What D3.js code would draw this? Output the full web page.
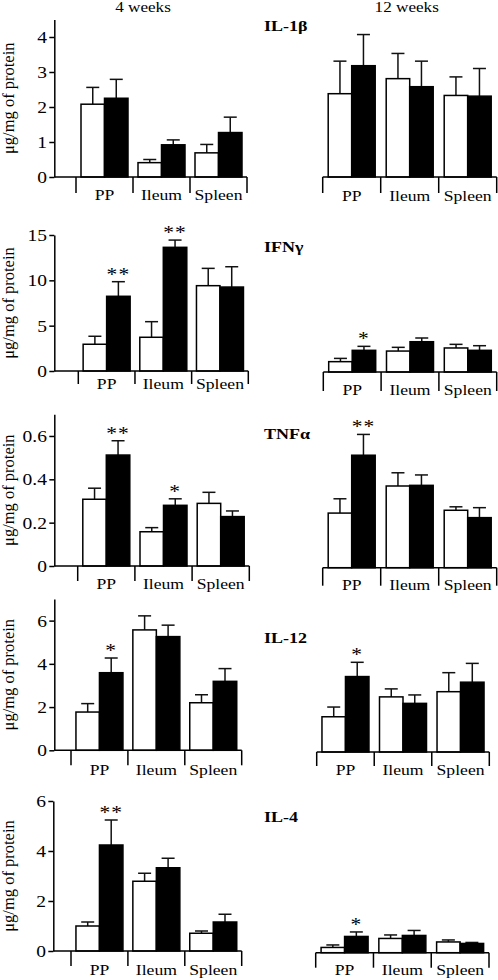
<!DOCTYPE html>
<html><head><meta charset="utf-8">
<script src="https://cdn.jsdelivr.net/npm/d3@7"></script>
<style>
body{margin:0;background:#fff}
text{font-family:"Liberation Serif","Times New Roman",serif;fill:#000}
</style>
</head><body>
<svg id="c" width="498" height="980"></svg>
<script>
// ---------- DATA ----------
const groups = ["PP", "Ileum", "Spleen"];
const periods = ["4 weeks", "12 weeks"];
const cytokines = ["IL-1β", "IFNγ", "TNFα", "IL-12", "IL-4"];
const yLabel = "μg/mg of protein";

// IL-1β
const il1b_ticks = [0, 1, 2, 3, 4];
const il1b_w4_ctrl = [2.08, 0.41, 0.69], il1b_w4_ctrl_sem = [0.48, 0.09, 0.24];
const il1b_w4_trt = [2.25, 0.92, 1.27], il1b_w4_trt_sem = [0.54, 0.14, 0.44];
const il1b_w4_sig = ["", "", ""];
const il1b_w12_ctrl = [2.38, 2.81, 2.33], il1b_w12_ctrl_sem = [0.93, 0.72, 0.53];
const il1b_w12_trt = [3.18, 2.58, 2.31], il1b_w12_trt_sem = [0.89, 0.73, 0.79];
const il1b_w12_sig = ["", "", ""];

// IFNγ
const ifng_ticks = [0, 5, 10, 15];
const ifng_w4_ctrl = [2.95, 3.72, 9.41], ifng_w4_ctrl_sem = [0.88, 1.72, 1.91];
const ifng_w4_trt = [8.24, 13.64, 9.26], ifng_w4_trt_sem = [1.61, 0.80, 2.24];
const ifng_w4_sig = ["**", "**", ""];
const ifng_w12_ctrl = [1.14, 2.31, 2.65], ifng_w12_ctrl_sem = [0.36, 0.41, 0.40];
const ifng_w12_trt = [2.39, 3.34, 2.39], ifng_w12_trt_sem = [0.44, 0.41, 0.51];
const ifng_w12_sig = ["*", "", ""];

// TNFα
const tnfa_ticks = [0, 0.2, 0.4, 0.6];
const tnfa_w4_ctrl = [0.308, 0.158, 0.289], tnfa_w4_ctrl_sem = [0.051, 0.019, 0.051];
const tnfa_w4_trt = [0.512, 0.280, 0.228], tnfa_w4_trt_sem = [0.066, 0.030, 0.026];
const tnfa_w4_sig = ["**", "*", ""];
const tnfa_w12_ctrl = [0.252, 0.377, 0.265], tnfa_w12_ctrl_sem = [0.066, 0.061, 0.016];
const tnfa_w12_trt = [0.519, 0.380, 0.231], tnfa_w12_trt_sem = [0.096, 0.048, 0.046];
const tnfa_w12_sig = ["**", "", ""];

// IL-12
const il12_ticks = [0, 2, 4, 6];
const il12_w4_ctrl = [1.77, 5.57, 2.20], il12_w4_ctrl_sem = [0.39, 0.65, 0.37];
const il12_w4_trt = [3.59, 5.26, 3.19], il12_w4_trt_sem = [0.68, 0.53, 0.59];
const il12_w4_sig = ["*", "", ""];
const il12_w12_ctrl = [1.63, 2.55, 2.79], il12_w12_ctrl_sem = [0.45, 0.37, 0.88];
const il12_w12_trt = [3.49, 2.25, 3.23], il12_w12_trt_sem = [0.66, 0.39, 0.87];
const il12_w12_sig = ["*", "", ""];

// IL-4
const il4_ticks = [0, 2, 4, 6];
const il4_w4_ctrl = [1.00, 2.79, 0.71], il4_w4_ctrl_sem = [0.16, 0.32, 0.09];
const il4_w4_trt = [4.24, 3.33, 1.16], il4_w4_trt_sem = [1.00, 0.38, 0.31];
const il4_w4_sig = ["**", "", ""];
const il4_w12_ctrl = [0.21, 0.57, 0.43], il4_w12_ctrl_sem = [0.10, 0.14, 0.08];
const il4_w12_trt = [0.65, 0.69, 0.37], il4_w12_trt_sem = [0.18, 0.20, 0.04];
const il4_w12_sig = ["*", "", ""];

const axisMax = [4.5, 15, 0.7, 7, 6];
const tickSets = [il1b_ticks, ifng_ticks, tnfa_ticks, il12_ticks, il4_ticks];
const rowData = [
  [{ctrl: il1b_w4_ctrl, ctrlSem: il1b_w4_ctrl_sem, trt: il1b_w4_trt, trtSem: il1b_w4_trt_sem, sig: il1b_w4_sig},
   {ctrl: il1b_w12_ctrl, ctrlSem: il1b_w12_ctrl_sem, trt: il1b_w12_trt, trtSem: il1b_w12_trt_sem, sig: il1b_w12_sig}],
  [{ctrl: ifng_w4_ctrl, ctrlSem: ifng_w4_ctrl_sem, trt: ifng_w4_trt, trtSem: ifng_w4_trt_sem, sig: ifng_w4_sig},
   {ctrl: ifng_w12_ctrl, ctrlSem: ifng_w12_ctrl_sem, trt: ifng_w12_trt, trtSem: ifng_w12_trt_sem, sig: ifng_w12_sig}],
  [{ctrl: tnfa_w4_ctrl, ctrlSem: tnfa_w4_ctrl_sem, trt: tnfa_w4_trt, trtSem: tnfa_w4_trt_sem, sig: tnfa_w4_sig},
   {ctrl: tnfa_w12_ctrl, ctrlSem: tnfa_w12_ctrl_sem, trt: tnfa_w12_trt, trtSem: tnfa_w12_trt_sem, sig: tnfa_w12_sig}],
  [{ctrl: il12_w4_ctrl, ctrlSem: il12_w4_ctrl_sem, trt: il12_w4_trt, trtSem: il12_w4_trt_sem, sig: il12_w4_sig},
   {ctrl: il12_w12_ctrl, ctrlSem: il12_w12_ctrl_sem, trt: il12_w12_trt, trtSem: il12_w12_trt_sem, sig: il12_w12_sig}],
  [{ctrl: il4_w4_ctrl, ctrlSem: il4_w4_ctrl_sem, trt: il4_w4_trt, trtSem: il4_w4_trt_sem, sig: il4_w4_sig},
   {ctrl: il4_w12_ctrl, ctrlSem: il4_w12_ctrl_sem, trt: il4_w12_trt, trtSem: il4_w12_trt_sem, sig: il4_w12_sig}]
];

// ---------- LAYOUT ----------
const SX = 1.16;          // horizontal stretch of lettering
const FS = 14.8;          // font size
const layout = [
  {yL0: 177,   yLTop: 19.5,  yR0: 177,   axisX: 54.3, xL: [76, 247],     xR: [322.7, 496.7], titleY: 31,    lblL: 23,   lblR: 23.5, tickL: 16, tickR: 16},
  {yL0: 371,   yLTop: 235,   yR0: 372,   axisX: 54.3, xL: [78.3, 248.3], xR: [323.3, 496.7], titleY: 252.3, lblL: 17.5, lblR: 23,   tickL: 13, tickR: 19},
  {yL0: 566,   yLTop: 414.3, yR0: 567.7, axisX: 54.3, xL: [77.7, 249.3], xR: [322.7, 496.7], titleY: 439.3, lblL: 23,   lblR: 22.5, tickL: 15, tickR: 18},
  {yL0: 750.3, yLTop: 599,   yR0: 752,   axisX: 54.3, xL: [71, 241.7],   xR: [316.7, 489.3], titleY: 643.3, lblL: 24.5, lblR: 23,   tickL: 15, tickR: 14},
  {yL0: 951,   yLTop: 801,   yR0: 952.7, axisX: 53.3, xL: [71, 241.7],   xR: [315.7, 489],   titleY: 821.7, lblL: 24,   lblR: 22.5, tickL: 15, tickR: 15}
];

const svg = d3.select("#c");

function sText(parent, x, y, str, opt = {}) {
  const t = parent.append("g")
    .attr("transform", `translate(${x},${y}) scale(${opt.sx ?? SX},1)`)
    .append("text")
    .attr("text-anchor", opt.anchor || "middle")
    .attr("font-size", opt.size || FS)
    .attr("font-weight", opt.weight || "normal")
    .attr("letter-spacing", opt.ls || null)
    .text(str);
  return t;
}

// column headers
sText(svg, 143, 12, periods[0]);
sText(svg, 406.7, 12, periods[1]);

function drawPanel(r, side) {
  const L = layout[r];
  const d = rowData[r][side === "L" ? 0 : 1];
  const h = L.yL0 - L.yLTop;
  const y0px = side === "L" ? L.yL0 : L.yR0;
  const y = d3.scaleLinear().domain([0, axisMax[r]]).range([y0px, y0px - h]);
  const xr = side === "L" ? L.xL : L.xR;
  const x = d3.scaleBand().domain(groups).range(xr).paddingInner(0).paddingOuter(0);
  const bw = x.bandwidth();
  const pad = (bw - 47) / 2;
  const xi = d3.scaleBand().domain(["ctrl", "trt"]).range([pad, bw - pad]).padding(0);
  const g = svg.append("g");

  const recs = [];
  groups.forEach((grp, i) => {
    recs.push({grp, s: "ctrl", v: d.ctrl[i], e: d.ctrlSem[i], sig: ""});
    recs.push({grp, s: "trt", v: d.trt[i], e: d.trtSem[i], sig: d.sig[i]});
  });

  // error bars (upper only)
  const eb = g.selectAll("g.eb").data(recs).join("g").attr("class", "eb");
  eb.append("line")
    .attr("x1", k => x(k.grp) + xi(k.s) + xi.bandwidth() / 2)
    .attr("x2", k => x(k.grp) + xi(k.s) + xi.bandwidth() / 2)
    .attr("y1", k => y(k.v)).attr("y2", k => y(k.v + k.e))
    .attr("stroke", "#111").attr("stroke-width", 1.5);
  eb.append("line")
    .attr("x1", k => x(k.grp) + xi(k.s) + xi.bandwidth() / 2 - 6.5)
    .attr("x2", k => x(k.grp) + xi(k.s) + xi.bandwidth() / 2 + 6.5)
    .attr("y1", k => y(k.v + k.e)).attr("y2", k => y(k.v + k.e))
    .attr("stroke", "#111").attr("stroke-width", 1.5);

  // bars
  g.selectAll("rect.bar").data(recs).join("rect").attr("class", "bar")
    .attr("x", k => x(k.grp) + xi(k.s))
    .attr("width", xi.bandwidth())
    .attr("y", k => y(k.v))
    .attr("height", k => y(0) - y(k.v))
    .attr("fill", k => k.s === "ctrl" ? "#fff" : "#000")
    .attr("stroke", "#000").attr("stroke-width", 1.5);

  // significance
  recs.filter(k => k.sig).forEach(k => {
    sText(g, x(k.grp) + xi(k.s) + xi.bandwidth() / 2, y(k.v + k.e) - 1, k.sig, {size: 19.5, sx: 1.1, ls: 1});
  });

  // x baseline with group brackets
  const xStart = side === "L" ? L.axisX : xr[0];
  g.append("line").attr("x1", xStart).attr("x2", xr[1]).attr("y1", y(0)).attr("y2", y(0))
    .attr("stroke", "#000").attr("stroke-width", 1.5);
  const bounds = groups.map(k => x(k)).concat([xr[1]]);
  const tl = side === "L" ? L.tickL : L.tickR;
  g.selectAll("line.brk").data(bounds).join("line").attr("class", "brk")
    .attr("x1", b => b).attr("x2", b => b)
    .attr("y1", y(0)).attr("y2", y(0) + tl)
    .attr("stroke", "#000").attr("stroke-width", 1.5);
  const ld = side === "L" ? L.lblL : L.lblR;
  groups.forEach(k => sText(g, x(k) + bw / 2, y(0) + ld, k, {size: 15.2}));

  if (side === "L") {
    const ax = g.append("g").attr("transform", `translate(${L.axisX},0)`)
      .call(d3.axisLeft(y).tickValues(tickSets[r]).tickSize(5).tickSizeOuter(0).tickFormat(v => String(v)));
    ax.select(".domain").attr("stroke", "#000").attr("stroke-width", 1.5);
    ax.selectAll(".tick line").attr("stroke", "#000").attr("stroke-width", 1.5);
    ax.selectAll(".tick text")
      .attr("font-family", null)
      .attr("font-size", 16)
      .attr("fill", "#000")
      .attr("x", -7.4 / 1.22)
      .attr("dy", "0.34em")
      .attr("transform", `scale(1.22,1)`);
    ax.attr("font-family", null).attr("font-size", null);
    // y label
    svg.append("text")
      .attr("transform", `translate(14,${(L.yL0 + L.yLTop) / 2}) rotate(-90)`)
      .attr("text-anchor", "middle")
      .attr("font-size", 16.5)
      .text(yLabel);
  } else {
    sText(svg, 264, L.titleY, cytokines[r], {anchor: "start", weight: "bold", size: 15.5});
  }
}

for (let r = 0; r < 5; r++) { drawPanel(r, "L"); drawPanel(r, "R"); }
</script>
</body></html>
